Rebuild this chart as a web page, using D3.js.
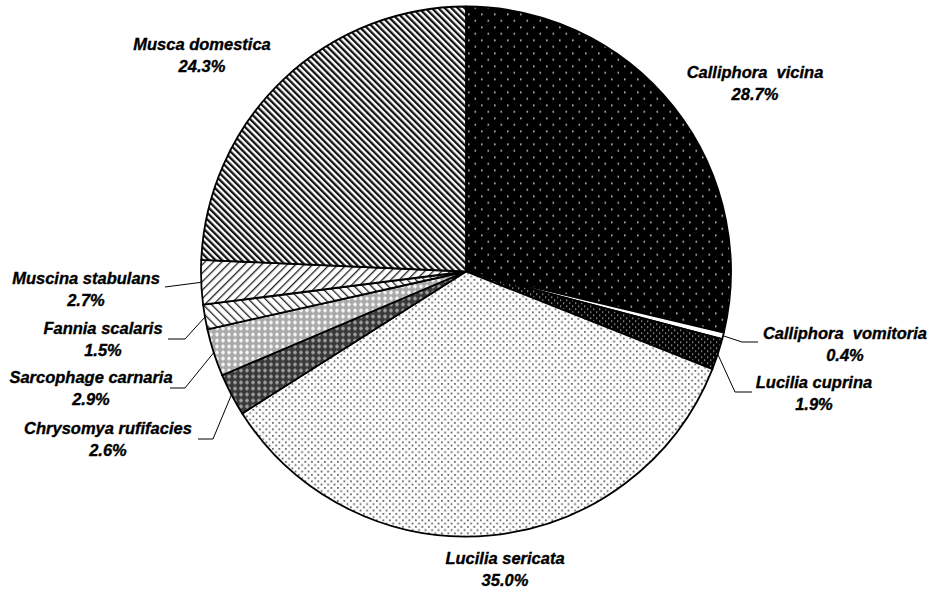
<!DOCTYPE html>
<html><head><meta charset="utf-8">
<script src="https://cdn.jsdelivr.net/npm/d3@7"></script>
<style>
html,body{margin:0;padding:0;background:#fff;}
svg text{font-family:"Liberation Sans",Arial,sans-serif;font-weight:bold;font-style:italic;font-size:16.5px;white-space:pre;stroke:#000;stroke-width:0.35px;}
</style></head>
<body>
<svg id="chart" width="930" height="589"></svg>
<script>
// ---- data ----
const species = ["Calliphora  vicina","Calliphora  vomitoria","Lucilia cuprina","Lucilia sericata","Chrysomya rufifacies","Sarcophage carnaria","Fannia scalaris","Muscina stabulans","Musca domestica"];
const percents = [28.7, 0.4, 1.9, 35.0, 2.6, 2.9, 1.5, 2.7, 24.3];
const pctLabels = ["28.7%","0.4%","1.9%","35.0%","2.6%","2.9%","1.5%","2.7%","24.3%"];

// ---- layout ----
const cx = 466, cy = 271.5, R = 265;
const patternIds = ["pVicina","pWhite","pCuprina","pSericata","pChrys","pSarco","pFannia","pMuscina","pMusca"];
const labelPos = [[755,78],[845,339],[814,388],[505,564],[108,434],[91,383],[103,334],[86,284],[202,50]];
const leaderPts = [null,[[742,342],[758,342]],[[735,392],[752,392]],null,[[213,439],[198,439]],[[185,388],[170,388]],[[185,339],[168,339]],[[165,287]],null];

const svg = d3.select("#chart");
const defs = svg.append("defs");
function pat(id,w,h){ return defs.append("pattern").attr("id",id).attr("patternUnits","userSpaceOnUse").attr("width",w).attr("height",h); }
// vicina: black with sparse light dots
let p = pat("pVicina",13,13);
p.append("rect").attr("width",13).attr("height",13).attr("fill","#000");
p.append("rect").attr("x",2).attr("y",2).attr("width",1.6).attr("height",1.6).attr("fill","#ccc");
p.append("rect").attr("x",8.5).attr("y",8.5).attr("width",1.6).attr("height",1.6).attr("fill","#ccc");
// white
p = pat("pWhite",4,4); p.append("rect").attr("width",4).attr("height",4).attr("fill","#fff");
// cuprina: black with dense light dots
p = pat("pCuprina",6,6);
p.append("rect").attr("width",6).attr("height",6).attr("fill","#000");
p.append("rect").attr("x",1).attr("y",1).attr("width",1.3).attr("height",1.3).attr("fill","#bbb");
p.append("rect").attr("x",4).attr("y",4).attr("width",1.3).attr("height",1.3).attr("fill","#bbb");
// sericata: white with gray dots
p = pat("pSericata",6.5,6.5);
p.append("rect").attr("width",6.5).attr("height",6.5).attr("fill","#fff");
p.append("rect").attr("x",1).attr("y",1).attr("width",1.7).attr("height",1.7).attr("fill","#555");
p.append("rect").attr("x",4.25).attr("y",4.25).attr("width",1.7).attr("height",1.7).attr("fill","#555");
// chrysomya: dark checker
p = pat("pChrys",6,6);
p.append("rect").attr("width",6).attr("height",6).attr("fill","#3a3a3a");
p.append("rect").attr("x",1).attr("y",2.3).attr("width",4).attr("height",1.4).attr("fill","#aaa");
p.append("rect").attr("x",2.3).attr("y",1).attr("width",1.4).attr("height",4).attr("fill","#aaa");
// sarcophage: light checker
p = pat("pSarco",6,6);
p.append("rect").attr("width",6).attr("height",6).attr("fill","#aaa");
p.append("rect").attr("x",1).attr("y",2.3).attr("width",4).attr("height",1.4).attr("fill","#fff");
p.append("rect").attr("x",2.3).attr("y",1).attr("width",1.4).attr("height",4).attr("fill","#fff");
// fannia: light downward diagonal "\"
p = pat("pFannia",6,6).attr("patternTransform","rotate(-45)");
p.append("rect").attr("width",6).attr("height",6).attr("fill","#fff");
p.append("rect").attr("x",0).attr("width",1.3).attr("height",6).attr("fill","#222");
// muscina: light upward diagonal "/"
p = pat("pMuscina",6,6).attr("patternTransform","rotate(45)");
p.append("rect").attr("width",6).attr("height",6).attr("fill","#fff");
p.append("rect").attr("x",0).attr("width",1.3).attr("height",6).attr("fill","#222");
// musca: wide downward diagonal "\"
p = pat("pMusca",4.6,4.6).attr("patternTransform","rotate(-45)");
p.append("rect").attr("width",4.6).attr("height",4.6).attr("fill","#fff");
p.append("rect").attr("x",0).attr("width",2.3).attr("height",4.6).attr("fill","#111");

const pie = d3.pie().sort(null).value(d=>d);
const arcs = pie(percents);
const arc = d3.arc().innerRadius(0).outerRadius(R);
const g = svg.append("g").attr("transform",`translate(${cx},${cy})`);
g.selectAll("path").data(arcs).join("path")
  .attr("d",arc)
  .attr("fill",(d,i)=>`url(#${patternIds[i]})`)
  .attr("stroke","#000").attr("stroke-width",1.8).attr("stroke-linejoin","round");

// leader lines
arcs.forEach((d,i)=>{
  if(!leaderPts[i]) return;
  const a = (d.startAngle+d.endAngle)/2;
  const start = [cx + R*Math.sin(a), cy - R*Math.cos(a)];
  const pts = [start].concat(leaderPts[i]);
  svg.append("path").attr("d",d3.line()(pts)).attr("fill","none").attr("stroke","#000").attr("stroke-width",1);
});

// labels
arcs.forEach((d,i)=>{
  const [x,y] = labelPos[i];
  const t = svg.append("text").attr("text-anchor","middle").attr("x",x).attr("y",y);
  t.append("tspan").attr("x",x).attr("y",y).text(species[i]);
  t.append("tspan").attr("x",x).attr("y",y+22).text(pctLabels[i]);
});
</script>
</body></html>
